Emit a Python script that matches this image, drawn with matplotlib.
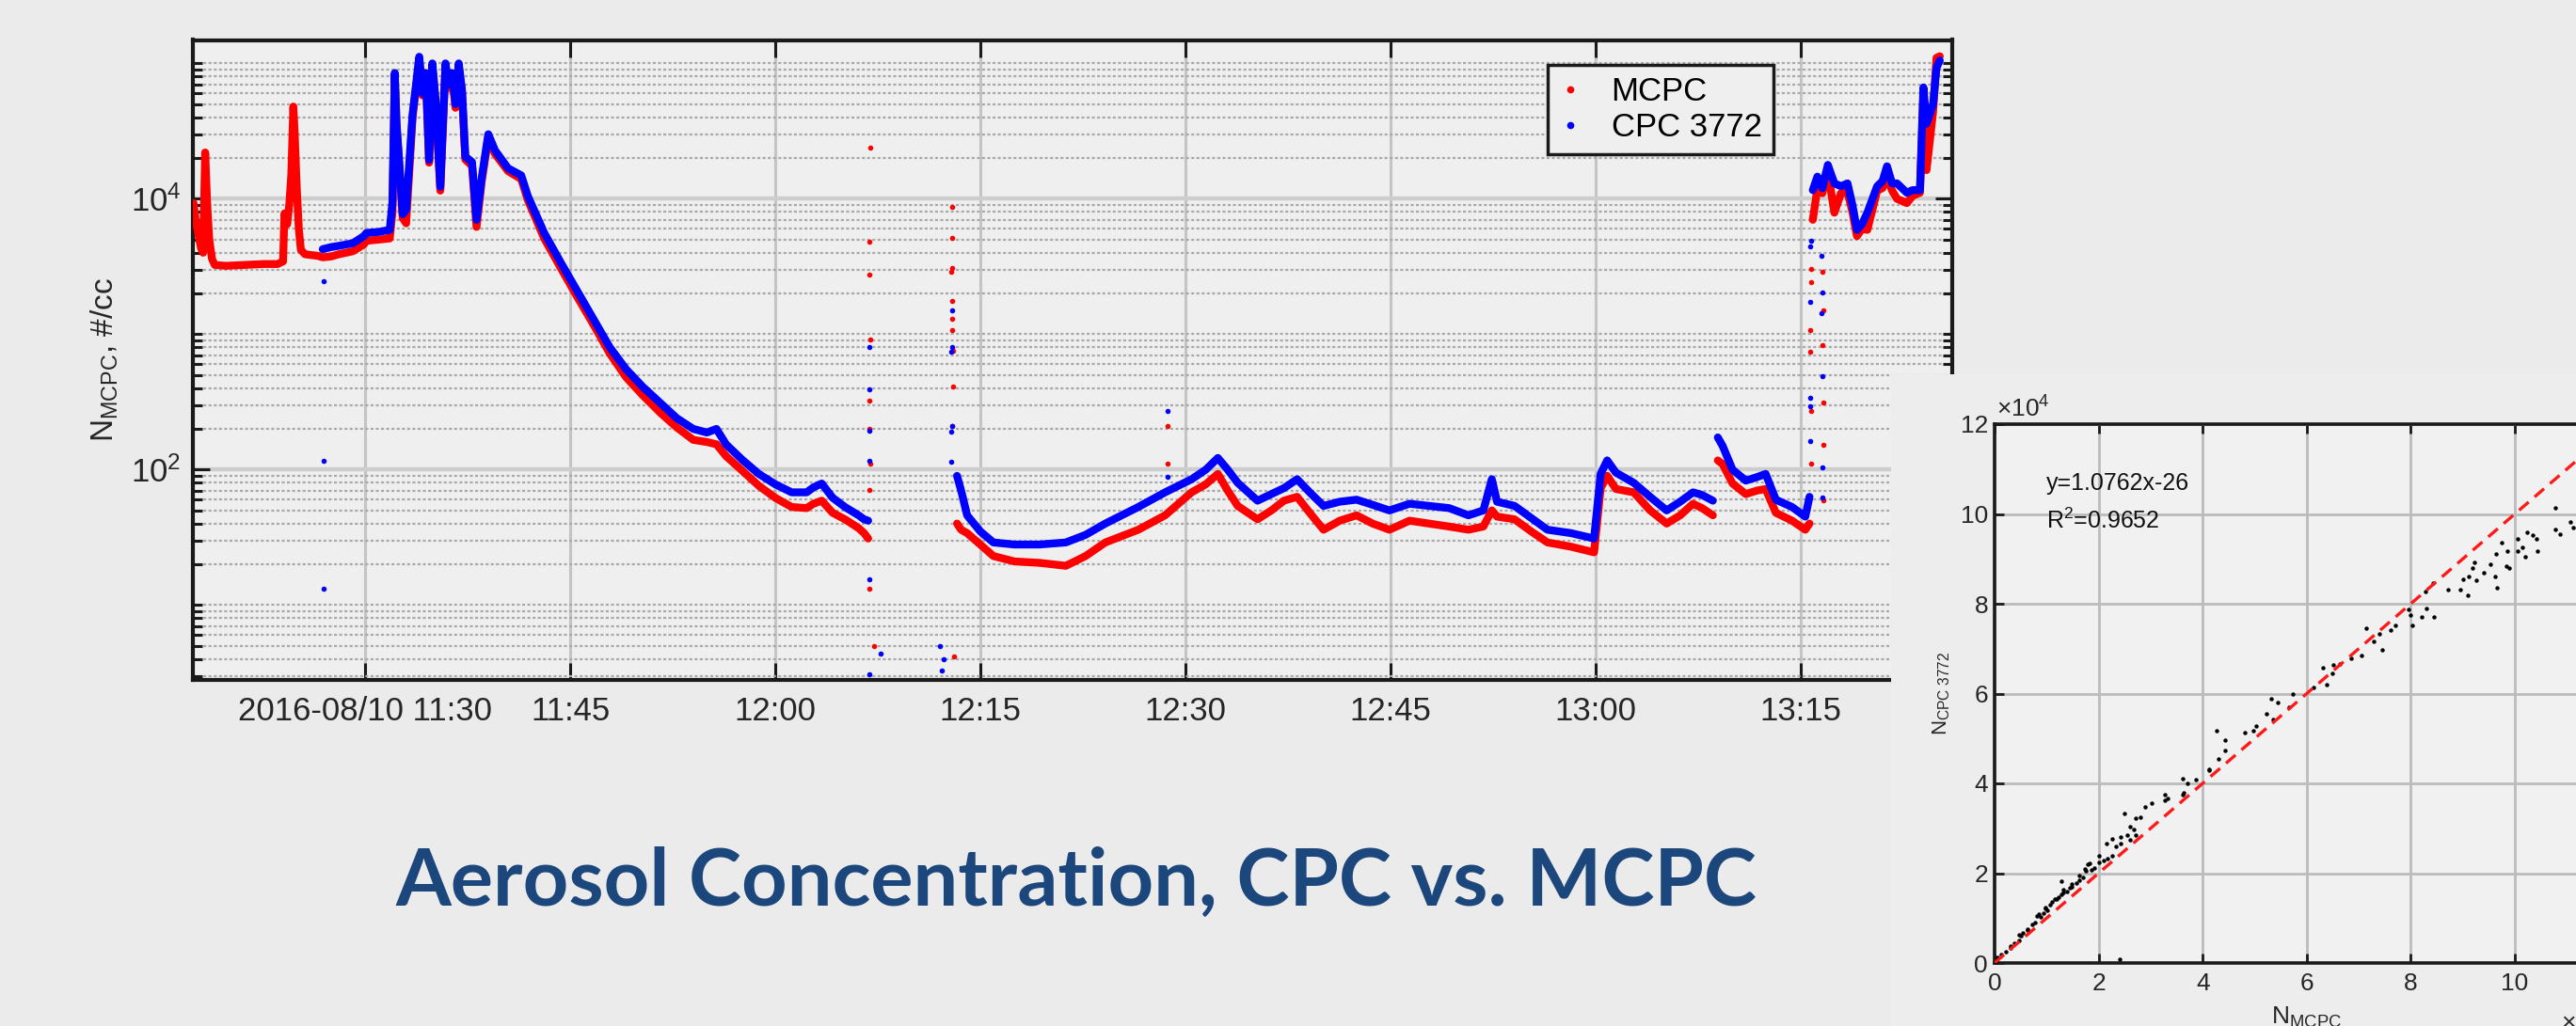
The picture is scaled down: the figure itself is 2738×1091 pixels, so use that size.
import numpy as np
import matplotlib
matplotlib.use("Agg")
import matplotlib.pyplot as plt
from matplotlib.lines import Line2D
from matplotlib.patches import Rectangle
from matplotlib.ticker import FixedLocator, LogLocator, NullFormatter

plt.rcParams['font.family'] = ['Liberation Sans', 'DejaVu Sans']
plt.rcParams['mathtext.fontset'] = 'custom'
plt.rcParams['mathtext.rm'] = 'Liberation Sans'
plt.rcParams['mathtext.it'] = 'Liberation Sans:italic'
plt.rcParams['mathtext.default'] = 'regular'

# ---- time series (minutes after 11:00, #/cc) ----
# MCPC alone before the CPC starts, then both instruments
mcpc_seg1_t = [17.45, 17.6, 17.8, 18.0, 18.15, 18.3, 18.45, 18.6, 18.8, 19.0, 19.8, 21.2,
               22.6, 23.6, 24.0, 24.1, 24.3, 24.45, 24.6, 24.75, 24.85, 25.0, 25.15, 25.3,
               25.6, 26.0, 26.5, 26.9]
mcpc_seg1_v = [9300, 7000, 5500, 4300, 4000, 22000, 9000, 5000, 3600, 3250, 3200, 3250,
               3300, 3300, 3450, 7800, 6500, 9000, 15000, 48000, 30000, 12000, 6000, 4200,
               3900, 3850, 3800, 3700]

seg2_t = [27.5, 28.1, 29.1, 29.9, 30.1, 31.0, 31.8, 32.0, 32.17, 32.3, 32.41, 32.75,
          33.0, 33.47, 33.96, 34.2, 34.44, 34.68, 34.92, 35.16, 35.5, 35.88, 36.1, 36.36,
          36.61, 36.85, 37.09, 37.33, 37.82, 38.15, 38.53, 39.01, 39.5, 40.46, 41.42, 41.9,
          43.1, 44.3, 45.5, 46.7, 47.9, 49.1, 50.3, 51.6, 52.8, 54.0, 55.0, 55.7,
          56.4, 57.6, 58.8, 60.0, 61.2, 62.3, 62.8, 63.4, 64.2, 65.1, 66.1, 66.5, 66.8]
mcpc_seg2_v = [3750, 3900, 4100, 4600, 4900, 5000, 5100, 8000, 80000, 34000, 24000, 7200,
               6600, 40000, 105000, 58000, 80000, 18500, 95000, 50000, 11500, 95000, 66000, 80000,
               47000, 95000, 60000, 19500, 17500, 6200, 13500, 28000, 21500, 16000, 14000, 9800,
               5100, 3100, 1900, 1180, 720, 480, 355, 263, 205, 166, 160, 154,
               126, 98, 76, 62, 53, 52, 56, 59, 48, 43, 37, 34, 31]
cpc_seg2_t = [26.9] + seg2_t
cpc_seg2_v = [4250, 4400, 4500, 4700, 5300, 5600, 5700, 5900, 9500, 85000, 36000, 25000, 7700,
              8300, 42000, 112000, 60000, 85000, 19400, 100000, 53000, 12300, 100000, 70000, 85000,
              50000, 100000, 63000, 20500, 18700, 7000, 14300, 30000, 22800, 16800, 14900, 10500,
              5600, 3400, 2100, 1300, 800, 550, 410, 310, 240, 200, 188, 200,
              154, 118, 93, 78, 68, 68, 74, 79, 62, 53, 46, 43, 42]

seg3_t = [73.3, 73.6, 74.04, 75.0, 75.96, 77.5, 79.33, 81.26, 82.7, 84.15, 86.56, 88.52,
          90.46, 91.5, 92.38, 93.1, 93.83, 95.28, 96.3, 97.21, 98.18, 99.1, 100.11, 101.3,
          102.53, 103.7, 104.93, 106.4, 107.82, 109.3, 110.71, 111.8, 112.42, 112.8, 114.08, 115.3,
          116.49, 118.2, 119.9, 120.38, 120.86, 121.5, 122.8, 124.0, 125.21, 126.2, 127.14, 127.8,
          128.59]
cpc_seg3_v = [90, 70, 46, 35, 29, 28, 28, 29, 33, 40, 53, 68,
              85, 100, 122, 100, 80, 59, 66, 73, 85, 68, 54, 58,
              60, 55, 50, 56, 54, 52, 46, 50, 85, 58, 54, 44,
              36, 34, 31, 93, 117, 95, 80, 63, 50, 58, 68, 65,
              59]
mcpc_seg3_v = [40, 36, 34, 28, 23, 21, 20.5, 19.5, 23, 29, 36, 46,
               68, 78, 93, 70, 54, 43, 50, 59, 63, 48, 36, 42,
               46, 40, 36, 42, 40, 38, 36, 38, 50, 45, 43, 35,
               29, 27, 24.5, 73, 90, 72, 68, 50, 40, 46, 56, 52,
               46]

seg4_t = [128.95, 129.3, 130.03, 131.0, 131.8, 132.45, 133.2, 134.38, 135.35, 135.66]
cpc_seg4_v = [173, 150, 100, 83, 88, 93, 60, 53, 45, 63]
mcpc_seg4_v = [117, 110, 79, 66, 70, 72, 48, 42, 36, 40]

seg5_t = [135.9, 136.24, 136.6, 137.0, 137.48, 137.96, 138.44, 138.8, 139.13, 139.5, 139.89, 140.61,
          141.0, 141.33, 141.7, 142.06, 142.78, 143.2, 143.74, 143.99, 144.22, 144.7, 144.95, 145.19]
cpc_seg5_v = [11600, 14600, 12000, 17800, 13000, 12400, 13000, 9000, 5900, 6500, 7900, 12400,
              13500, 17400, 13000, 13000, 11100, 11600, 11600, 66500, 35900, 50000, 93000, 105000]
mcpc_seg5_v = [7000, 12000, 11000, 16000, 7900, 11000, 11200, 8000, 5300, 6000, 5900, 11500,
               12000, 14600, 11500, 10000, 9300, 10500, 11100, 59000, 16300, 44000, 110000, 113000]

# isolated readings during instrument switching
mcpc_iso_t = [66.95, 66.9, 66.9, 66.95, 66.9, 66.9, 66.95, 66.9, 66.9, 67.26,
              72.95, 72.95, 72.95, 72.9, 72.95, 72.95, 72.95, 73.0, 73.0, 72.95, 73.05,
              88.7, 88.7,
              135.75, 136.7, 136.7, 135.75, 136.7, 135.7, 136.6, 135.7, 136.7, 136.6, 135.75, 135.75]
mcpc_iso_v = [24000, 4800, 2760, 910, 325, 200, 110, 71, 13.3, 5,
              8700, 5150, 3100, 2900, 1770, 1300, 1070, 760, 410, 210, 4.2,
              210, 110,
              110, 59, 152, 270, 315, 740, 830, 1070, 1500, 2870, 3030, 2420]
cpc_iso_t = [26.95, 26.95, 26.95,
             66.9, 66.9, 66.85, 66.85, 66.9, 67.74, 66.85,
             72.95, 72.95, 72.9, 72.95, 72.9, 72.9, 72.08, 72.3, 72.2,
             88.7, 88.7,
             135.7, 136.6, 136.6, 135.7, 135.7, 136.6, 136.5, 135.7, 136.6, 135.7, 136.5, 135.75]
cpc_iso_v = [2450, 117, 13.2,
             810, 390, 195, 117, 15.6, 4.4, 3.1,
             1500, 800, 740, 210, 190, 115, 5, 4.0, 3.3,
             270, 89,
             163, 104, 62, 340, 295, 490, 1420, 1740, 2050, 4480, 3800, 4900]

tick_minutes = [30, 45, 60, 75, 90, 105, 120, 135]
tick_labels = ['2016-08/10 11:30', '11:45', '12:00', '12:15', '12:30', '12:45', '13:00', '13:15']

# ---- scatter, units of 1e4 #/cc ----
sc_x = [0.03, 0.06, 0.13, 0.21, 0.30, 0.30, 0.38, 0.47, 0.47, 0.51, 0.55, 0.64, 0.64, 0.72,
        0.77, 0.81, 0.85, 0.89, 0.94, 0.98, 0.98, 1.02, 1.06, 1.11, 1.15, 1.19, 1.23, 1.28,
        1.28, 1.32, 1.32, 1.40, 1.45, 1.49, 1.49, 1.57, 1.62, 1.62, 1.70, 1.74, 1.76, 1.79,
        1.83, 1.87, 1.91, 2.00, 2.00, 2.09, 2.15, 2.17, 2.26, 2.26, 2.34, 2.40, 2.43, 2.43,
        2.49, 2.55, 2.60, 2.60, 2.68, 2.72, 2.72, 2.81, 2.89, 3.02, 3.28, 3.28, 3.32, 3.62,
        3.62, 3.63, 3.70, 3.87, 4.13, 4.13, 4.27, 4.31, 4.43, 4.43, 4.81, 4.98, 5.02, 5.23,
        5.32, 5.36, 5.45, 5.66, 5.74, 6.13, 6.31, 6.38, 6.49, 6.51, 6.64, 6.85, 7.06, 7.15,
        7.28, 7.40, 7.45, 7.62, 7.70, 7.96, 8.00, 8.03, 8.21, 8.28, 8.30, 8.43, 8.45, 8.72,
        8.95, 9.00, 9.09, 9.12, 9.19, 9.23, 9.25, 9.40, 9.53, 9.62, 9.63, 9.66, 9.74, 9.83,
        9.86, 9.90, 10.06, 10.06, 10.14, 10.20, 10.24, 10.34, 10.41, 10.43, 10.77, 10.78, 10.87,
        11.06, 11.13]
sc_y = [0.05, 0.12, 0.19, 0.26, 0.34, 0.38, 0.43, 0.50, 0.62, 0.60, 0.67, 0.74, 0.76, 0.85,
        0.91, 1.05, 1.09, 1.02, 1.12, 1.22, 1.24, 1.17, 1.29, 1.36, 1.43, 1.43, 1.46, 1.53,
        1.82, 1.57, 1.64, 1.60, 1.67, 1.70, 1.76, 1.77, 1.84, 1.95, 1.91, 2.09, 2.05, 2.19,
        2.23, 2.08, 2.12, 2.25, 2.38, 2.29, 2.66, 2.32, 2.39, 2.76, 2.60, 0.09, 2.67, 2.80,
        3.32, 2.84, 2.74, 3.04, 2.98, 2.84, 3.23, 3.25, 3.47, 3.56, 3.63, 3.75, 3.66, 3.75,
        4.11, 3.80, 3.99, 4.08, 4.29, 4.32, 5.17, 4.54, 4.73, 4.96, 5.13, 5.18, 5.27, 5.56,
        5.89, 5.43, 5.80, 5.70, 6.00, 6.13, 6.57, 6.19, 6.46, 6.63, 6.65, 6.79, 6.84, 7.46,
        7.17, 7.32, 6.98, 7.41, 7.52, 7.87, 7.74, 7.51, 7.71, 8.27, 7.89, 8.46, 7.71, 8.31,
        8.31, 8.55, 8.19, 8.60, 8.79, 8.93, 8.52, 8.69, 8.88, 8.60, 9.12, 8.36, 9.36, 8.84,
        9.17, 8.79, 9.17, 9.45, 9.26, 9.05, 9.60, 9.52, 9.45, 9.17, 10.13, 9.66, 9.56,
        9.83, 9.69]
ref_line_x = [0, 12]
ref_line_y = [0, 12]
fit_text = 'y=1.0762x-26'
r2_text = r'R$^{2}$=0.9652'

W, H = 2738, 1091


def px_rect(l, t, r, b):
    return [l / W, 1 - b / H, (r - l) / W, (b - t) / H]


def join(*segs):
    out = []
    for s in segs:
        out += list(s) + [np.nan]
    return np.array(out[:-1], dtype=float)


mcpc_t = join(mcpc_seg1_t + seg2_t, seg3_t, seg4_t, seg5_t)
mcpc_v = join(mcpc_seg1_v + mcpc_seg2_v, mcpc_seg3_v, mcpc_seg4_v, mcpc_seg5_v)
cpc_t = join(cpc_seg2_t, seg3_t, seg4_t, seg5_t)
cpc_v = join(cpc_seg2_v, cpc_seg3_v, cpc_seg4_v, cpc_seg5_v)

fig = plt.figure(figsize=(27.38, 10.91), dpi=100, facecolor='#ebebeb')

# main time series
ax = fig.add_axes(px_rect(205, 42.5, 2075, 723), zorder=0)
ax.set_facecolor('#efefef')
ax.set_yscale('log')
ax.set_xlim(17.4, 146.1)
ax.set_ylim(2.8, 1.49e5)

RED, BLUE = '#ff0000', '#0000ff'
ax.plot(mcpc_t, mcpc_v, color=RED, lw=6, solid_joinstyle='round', solid_capstyle='round',
        zorder=3)
ax.plot(mcpc_iso_t, mcpc_iso_v, 'o', color=RED, ms=4, mew=0, zorder=3)
ax.plot(cpc_t, cpc_v, color=BLUE, lw=6, solid_joinstyle='round', solid_capstyle='round',
        zorder=4)
ax.plot(cpc_iso_t, cpc_iso_v, 'o', color=BLUE, ms=4, mew=0, zorder=4)

ax.set_xticks(tick_minutes)
ax.set_xticklabels(tick_labels)
ax.yaxis.set_major_locator(FixedLocator([1e2, 1e4]))
ax.yaxis.set_minor_locator(LogLocator(base=10, subs=np.arange(1, 10), numticks=60))
ax.yaxis.set_minor_formatter(NullFormatter())

ax.set_axisbelow(True)
ax.grid(which='major', axis='x', color='#c4c4c4', lw=2.2)
ax.grid(which='major', axis='y', color='#cdcdcd', lw=3.2)
ax.grid(which='minor', axis='y', color='#a9a9a9', lw=1.6, ls=(0, (1.4, 1.1)))

ax.tick_params(which='both', direction='in', top=True, right=True, width=2.2,
               colors='#1a1a1a', labelcolor='#262626')
ax.tick_params(which='major', length=13, labelsize=25)
ax.tick_params(which='minor', length=7)
ax.tick_params(axis='x', pad=12)
ax.tick_params(axis='y', pad=9)
for sp in ax.spines.values():
    sp.set_linewidth(3)
    sp.set_color('#1a1a1a')
ax.set_ylabel(r'N$_{\rm MCPC}$, #/cc', fontsize=24, color='#262626', labelpad=8)

handles = [Line2D([0], [0], ls='none', marker='o', ms=4.5, mfc=RED, mec=RED),
           Line2D([0], [0], ls='none', marker='o', ms=4.5, mfc=BLUE, mec=BLUE)]
leg = ax.legend(handles, ['MCPC', 'CPC 3772'], loc='upper left',
                bbox_to_anchor=(0.770, 0.9617), fontsize=25, frameon=True,
                fancybox=False, edgecolor='#1a1a1a', facecolor='#efefef', framealpha=1,
                handlelength=0.7, handletextpad=0.9, borderpad=0.35, labelspacing=0.15,
                borderaxespad=0)
leg.get_frame().set_linewidth(2.5)
leg.set_zorder(10)

# background behind the scatter inset
fig.add_artist(Rectangle((2010 / W, 0), 1 - 2010 / W, 1 - 398 / H, transform=fig.transFigure,
                         facecolor='#ededed', edgecolor='none', zorder=1))

# scatter inset
ax2 = fig.add_axes(px_rect(2120, 451, 2120 + 12 * 55.3, 1024), zorder=2)
ax2.set_facecolor('#f1f1f1')
ax2.plot(sc_x, sc_y, 'o', color='black', ms=3.2, mew=0, zorder=3)
ax2.plot(ref_line_x, ref_line_y, color='#ff1a1a', lw=2.4, ls=(0, (4, 2.5)), zorder=4)
ax2.set_xlim(0, 12)
ax2.set_ylim(0, 12)
ax2.set_xticks(np.arange(0, 13, 2))
ax2.set_yticks(np.arange(0, 13, 2))
ax2.grid(True, color='#bcbcbc', lw=2)
ax2.set_axisbelow(True)
ax2.tick_params(which='both', direction='in', top=True, right=True, width=2, length=7,
                colors='#1a1a1a', labelcolor='#262626', labelsize=19)
ax2.tick_params(axis='x', pad=7)
ax2.tick_params(axis='y', pad=5)
for sp in ax2.spines.values():
    sp.set_linewidth(2.6)
    sp.set_color('#1a1a1a')
ax2.set_ylabel(r'N$_{\rm CPC\ 3772}$', fontsize=16, color='#262626', labelpad=6)
ax2.set_xlabel(r'N$_{\rm MCPC}$', fontsize=19, color='#262626', labelpad=8)
ax2.text(1.0, 10.68, fit_text, fontsize=18, va='center', color='#111111')
ax2.text(1.0, 9.85, r2_text, fontsize=18, va='center', color='#111111')
fig.text(2122 / W, 1 - 449 / H, r'$\times$10$^{4}$', fontsize=19, color='#262626',
         ha='left', va='bottom')
fig.text(2722 / W, 1 - 1102 / H, r'$\times$10$^{4}$', fontsize=19, color='#262626',
         ha='left', va='bottom')

# slide title
fig.text(1143.5 / W, 1 - 962.7 / H, 'Aerosol Concentration, CPC vs. MCPC', ha='center',
         va='baseline', fontsize=61, fontweight='bold', color='#1c477c', family='Lato')

fig.savefig('out.png', dpi=100, facecolor=fig.get_facecolor())
